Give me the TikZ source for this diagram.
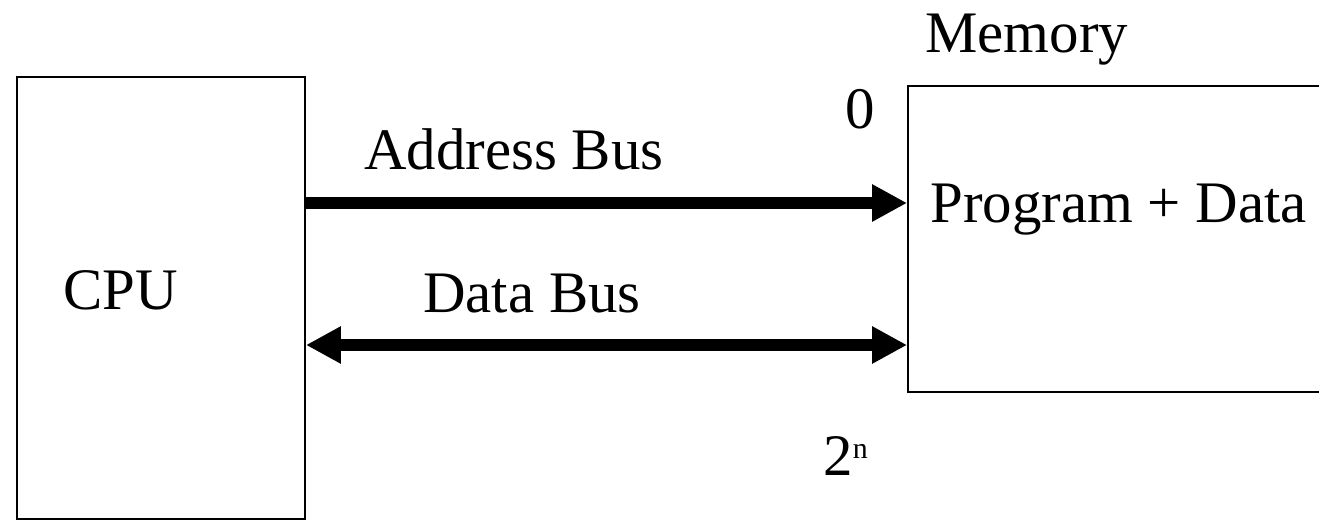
\documentclass[tikz,border=0pt]{standalone}
\usepackage{fontspec}
\setmainfont{Liberation Serif}
\usetikzlibrary{arrows.meta}
\begin{document}
\begin{tikzpicture}[x=0.02cm,y=-0.02cm,
		box/.style={draw,line width=1.1pt,inner sep=0pt},
		bus/.style={line width=6.3pt},
		txt/.style={font=\fontsize{33.5}{40}\selectfont,inner sep=0pt},
		>={Triangle[length=0.7cm,width=0.7cm]}]
		\useasboundingbox (0,0) rectangle (1319,520);
		\node[box,minimum width=5.76cm,minimum height=8.84cm](cpu) at(161,298){};
		\node[box,minimum width=8.64cm,minimum height=6.12cm](mem) at(1124,239){};
		\node[txt,anchor=base west](cpulbl) at(63,310){CPU};
		\node[txt,anchor=base west](memlbl) at(925,53){Memory};
		\node[txt,anchor=base west](prog) at(930,223){Program + Data};
		\node[txt,anchor=base](addrlbl) at(514,170){Address Bus};
		\node[txt,anchor=base](datalbl) at(532,313){Data Bus};
		\node[txt,anchor=base](low) at(860,129){0};
		\node[txt,anchor=base west](high) at(823,475){2\raisebox{9.5pt}{\fontsize{17}{17}\selectfont n}};
		\draw[bus,->](cpu.east|-0,203)--(mem.west|-0,203);
		\draw[bus,<->](cpu.east|-0,345)--(mem.west|-0,345);
\end{tikzpicture}
\end{document}
